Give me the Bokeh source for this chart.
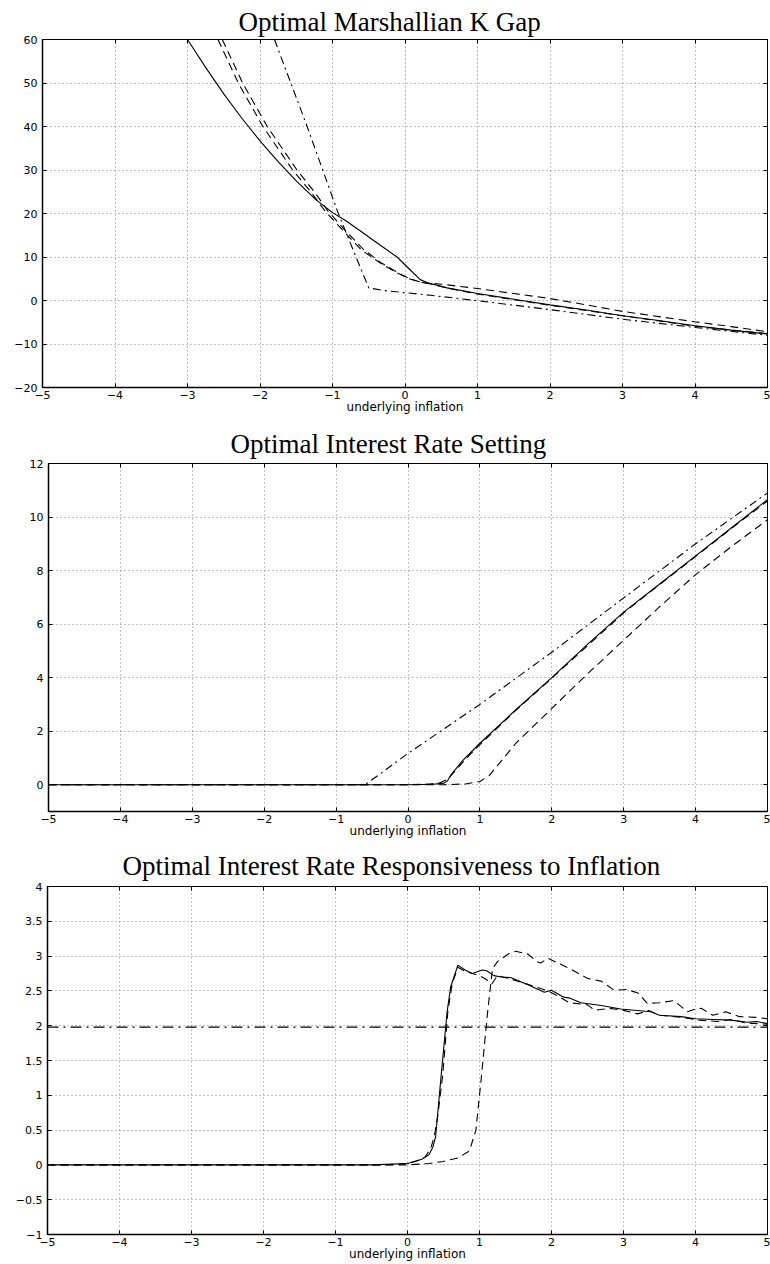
from bokeh.plotting import figure
from bokeh.models import Range1d, FixedTicker, LinearAxis
from bokeh.embed import file_html
from bokeh.resources import INLINE

# ---------------- shared axis data ----------------
X_TICKS = [-5, -4, -3, -2, -1, 0, 1, 2, 3, 4, 5]
X_TICK_LABELS = ["−5", "−4", "−3", "−2", "−1", "0", "1", "2", "3", "4", "5"]
X_LABEL = "underlying inflation"

# ---------------- panel 1: Optimal Marshallian K Gap ----------------
TITLE_1 = "Optimal Marshallian K Gap"
Y1_TICKS = [-20, -10, 0, 10, 20, 30, 40, 50, 60]
Y1_TICK_LABELS = ["−20", "−10", "0", "10", "20", "30", "40", "50", "60"]

k_solid_x = [-3.0, -2.75, -2.5, -2.25, -2.0, -1.75, -1.5, -1.23, -1.0, -0.82, -0.6, -0.34,
             -0.11, 0.08, 0.21, 0.31, 0.58, 1.0, 1.5, 2.0, 2.5, 3.0, 3.5, 4.0, 4.5, 5.0]
k_solid_y = [60.0, 53.6, 47.5, 41.9, 36.7, 31.9, 27.5, 23.2, 20.2, 18.4, 15.8, 12.7,
             10.0, 6.9, 4.8, 4.1, 2.9, 1.6, 0.3, -1.0, -2.2, -3.5, -4.6, -5.8, -6.8, -7.7]

k_dash_a_x = [-2.58, -2.3, -1.96, -1.55, -1.3, -1.1, -0.85, -0.6, -0.34, -0.16, 0.05, 0.25,
              0.5, 1.0, 1.5, 2.0, 2.5, 3.0, 3.5, 4.0, 4.5, 5.0]
k_dash_a_y = [60.0, 50.0, 40.0, 30.0, 25.0, 20.5, 16.0, 11.6, 8.6, 6.8, 5.0, 4.1,
              3.75, 2.75, 1.6, 0.45, -1.0, -2.5, -3.7, -4.9, -6.0, -7.2]

k_dash_b_x = [-2.52, -2.24, -1.9, -1.49, -1.25, -1.06, -0.82, -0.57, -0.33, -0.15, 0.05, 0.2,
              0.35, 0.6, 1.0, 1.5, 2.0, 2.5, 3.0, 3.5, 4.0, 4.5, 5.0]
k_dash_b_y = [60.0, 50.0, 40.0, 30.0, 25.0, 20.5, 16.0, 11.7, 8.7, 6.9, 5.1, 4.3,
              3.8, 2.8, 1.5, 0.2, -1.1, -2.3, -3.5, -4.7, -5.9, -6.8, -7.6]

k_dashdot_x = [-1.8, -1.35, -0.92, -0.7, -0.5, -0.3, 0.35, 1.08, 2.0, 3.0, 4.0, 5.0]
k_dashdot_y = [60.0, 40.0, 20.0, 11.0, 2.9, 2.3, 1.2, -0.2, -2.1, -4.3, -6.2, -8.0]

# ---------------- panel 2: Optimal Interest Rate Setting ----------------
TITLE_2 = "Optimal Interest Rate Setting"
Y2_TICKS = [0, 2, 4, 6, 8, 10, 12]
Y2_TICK_LABELS = ["0", "2", "4", "6", "8", "10", "12"]

r_solid_x = [-5.0, 0.0, 0.35, 0.5, 0.55, 0.6, 0.76, 1.0, 1.5, 2.0, 2.5, 3.0, 3.5, 4.0, 4.5, 5.0]
r_solid_y = [0.0, 0.0, 0.02, 0.06, 0.15, 0.38, 0.9, 1.55, 2.8, 4.0, 5.25, 6.45, 7.5, 8.55, 9.6, 10.65]

r_dash_b_x = [-5.0, 0.0, 0.3, 0.45, 0.55, 0.65, 0.8, 1.0, 1.5, 2.0, 2.5, 3.0, 3.5, 4.0, 4.5, 5.0]
r_dash_b_y = [0.0, 0.0, 0.03, 0.08, 0.2, 0.5, 0.95, 1.5, 2.78, 3.98, 5.2, 6.42, 7.48, 8.52, 9.58, 10.6]

r_dash_a_x = [-5.0, 0.5, 0.8, 1.0, 1.13, 1.27, 1.5, 2.0, 2.5, 3.0, 3.5, 4.0, 4.5, 5.0]
r_dash_a_y = [0.0, 0.0, 0.03, 0.12, 0.34, 0.8, 1.55, 2.85, 4.15, 5.4, 6.65, 7.85, 8.9, 9.9]

r_dashdot_x = [-5.0, -0.6, -0.39, 0.0, 1.0, 2.0, 3.0, 4.0, 5.0]
r_dashdot_y = [0.0, 0.0, 0.4, 1.17, 3.0, 4.95, 6.98, 9.0, 10.9]

# ---------------- panel 3: Responsiveness to Inflation ----------------
TITLE_3 = "Optimal Interest Rate Responsiveness to Inflation"
Y3_TICKS = [-1, -0.5, 0, 0.5, 1, 1.5, 2, 2.5, 3, 3.5, 4]
Y3_TICK_LABELS = ["−1", "−0.5", "0", "0.5", "1", "1.5", "2", "2.5", "3", "3.5", "4"]

s_solid_x = [-5.0, -0.5, 0.0, 0.2, 0.3, 0.35, 0.39, 0.46, 0.55, 0.6, 0.7, 0.8, 0.9, 1.04,
             1.1, 1.2, 1.3, 1.44, 1.69, 1.9, 2.0, 2.17, 2.24, 2.41, 2.69, 2.96, 3.38, 3.5,
             3.8, 4.0, 4.25, 4.49, 4.72, 4.85, 5.0]
s_solid_y = [0.0, 0.0, 0.02, 0.08, 0.15, 0.25, 0.4, 1.2, 2.2, 2.56, 2.87, 2.8, 2.75, 2.8,
             2.79, 2.72, 2.7, 2.69, 2.58, 2.48, 2.51, 2.41, 2.4, 2.33, 2.29, 2.24, 2.2, 2.15,
             2.13, 2.1, 2.09, 2.08, 2.05, 2.06, 2.03]

s_dash_b_x = [-5.0, -0.3, 0.0, 0.14, 0.24, 0.32, 0.37, 0.42, 0.49, 0.56, 0.62, 0.7, 0.8,
              0.9, 1.0, 1.1, 1.17, 1.25, 1.4, 1.6, 1.8, 1.95, 2.1, 2.25, 2.5, 2.6, 2.8,
              3.0, 3.2, 3.35, 3.5, 3.8, 4.05, 4.3, 4.5, 4.7, 5.0]
s_dash_b_y = [0.0, 0.0, 0.02, 0.06, 0.11, 0.23, 0.4, 0.7, 1.3, 2.2, 2.6, 2.84, 2.78,
              2.75, 2.72, 2.66, 2.6, 2.72, 2.68, 2.62, 2.55, 2.5, 2.42, 2.33, 2.3, 2.22, 2.25,
              2.22, 2.17, 2.22, 2.15, 2.12, 2.08, 2.06, 2.09, 2.04, 2.02]

s_dash_a_x = [-5.0, 0.0, 0.3, 0.5, 0.7, 0.86, 0.95, 1.02, 1.11, 1.18, 1.25, 1.4, 1.5, 1.67,
              1.8, 1.85, 1.95, 2.05, 2.27, 2.5, 2.69, 2.87, 3.05, 3.2, 3.33, 3.5, 3.7, 3.89,
              4.0, 4.08, 4.24, 4.42, 4.61, 4.84, 5.0]
s_dash_a_y = [0.0, 0.0, 0.02, 0.05, 0.1, 0.2, 0.5, 1.2, 2.17, 2.82, 2.92, 3.03, 3.07, 3.03,
              2.92, 2.9, 2.97, 2.92, 2.81, 2.68, 2.64, 2.51, 2.52, 2.47, 2.32, 2.33, 2.36, 2.2,
              2.24, 2.25, 2.15, 2.2, 2.13, 2.12, 2.1]

s_dashdot_x = [-5.0, 5.0]
s_dashdot_y = [1.98, 1.98]

# ---------------- styling ----------------
DASH = "8 5"
DASHDOT = "8 4 2 4"
DASHDOT_FLAT = "11 5 2 5"
TICK_FONT = "DejaVu Sans"
TITLE_FONT = "Liberation Serif"
FIG_W = 770


def make_panel(title, title_left, title_standoff, ymin, ymax, yticks, ylabels,
               left, top, frame_h, bottom):
    p = figure(width=FIG_W, height=top + frame_h + bottom,
               x_range=Range1d(-5, 5), y_range=Range1d(ymin, ymax),
               output_backend="svg", toolbar_location=None,
               min_border_left=left, min_border_right=3,
               min_border_top=top, min_border_bottom=bottom,
               background_fill_color="white", border_fill_color="white")
    p.outline_line_color = "black"
    p.outline_line_width = 1

    p.title.text = title
    p.title.text_font = TITLE_FONT
    p.title.text_font_size = "27px"
    p.title.text_font_style = "normal"
    p.title.text_color = "black"
    p.title.align = "left"
    p.title.offset = title_left - left
    p.title.standoff = title_standoff

    xt = FixedTicker(ticks=X_TICKS)
    yt = FixedTicker(ticks=yticks)
    p.xaxis.ticker = xt
    p.yaxis.ticker = yt
    p.xgrid.ticker = xt
    p.ygrid.ticker = yt
    p.xaxis.major_label_overrides = {float(t): s for t, s in zip(X_TICKS, X_TICK_LABELS)}
    p.yaxis.major_label_overrides = {float(t): s for t, s in zip(yticks, ylabels)}

    for ax in (p.xaxis[0], p.yaxis[0]):
        ax.major_tick_in = 4
        ax.major_tick_out = 0
        ax.minor_tick_line_color = None
        ax.axis_line_width = 1.5
        ax.axis_line_color = "black"
        ax.major_tick_line_color = "black"
        ax.major_label_text_font = TICK_FONT
        ax.major_label_text_font_size = "11px"
        ax.major_label_text_color = "black"
    p.xaxis.major_label_standoff = 3
    p.yaxis.major_label_standoff = 5
    p.xaxis.axis_label = X_LABEL
    p.xaxis.axis_label_text_font = TICK_FONT
    p.xaxis.axis_label_text_font_style = "normal"
    p.xaxis.axis_label_text_font_size = "12px"
    p.xaxis.axis_label_text_color = "black"
    p.xaxis.axis_label_standoff = -2

    for g in (p.xgrid, p.ygrid):
        g.grid_line_color = "#808080"
        g.grid_line_dash = "1 3"
        g.grid_line_width = 1

    for side, ticks in (("above", X_TICKS), ("right", yticks)):
        ax = LinearAxis(ticker=FixedTicker(ticks=ticks),
                        major_label_overrides={float(t): "" for t in ticks},
                        major_label_text_font_size="0px", major_label_standoff=0,
                        major_tick_in=4, major_tick_out=0, minor_tick_line_color=None,
                        axis_line_color="black", axis_line_width=1,
                        major_tick_line_color="black")
        p.add_layout(ax, side)
    return p


def draw(p, xs, ys, dash):
    p.line(xs, ys, line_color="black", line_width=1.1, line_dash=dash)


p1 = make_panel(TITLE_1, 238, 6, -20, 60, Y1_TICKS, Y1_TICK_LABELS, left=42, top=39, frame_h=348, bottom=33)
draw(p1, k_dashdot_x, k_dashdot_y, DASHDOT)
draw(p1, k_dash_a_x, k_dash_a_y, DASH)
draw(p1, k_dash_b_x, k_dash_b_y, DASH)
draw(p1, k_solid_x, k_solid_y, "solid")

p2 = make_panel(TITLE_2, 230, 10, -1, 12, Y2_TICKS, Y2_TICK_LABELS, left=48, top=43, frame_h=348, bottom=29)
draw(p2, r_dashdot_x, r_dashdot_y, DASHDOT)
draw(p2, r_dash_a_x, r_dash_a_y, DASH)
draw(p2, r_dash_b_x, r_dash_b_y, DASH)
draw(p2, r_solid_x, r_solid_y, "solid")

p3 = make_panel(TITLE_3, 122, 11, -1, 4, Y3_TICKS, Y3_TICK_LABELS, left=47, top=46, frame_h=348, bottom=30)
draw(p3, s_dashdot_x, s_dashdot_y, DASHDOT_FLAT)
draw(p3, s_dash_a_x, s_dash_a_y, DASH)
draw(p3, s_dash_b_x, s_dash_b_y, DASH)
draw(p3, s_solid_x, s_solid_y, "solid")

open("out.html", "w").write(file_html([p1, p2, p3], INLINE, "Optimal policy"))
